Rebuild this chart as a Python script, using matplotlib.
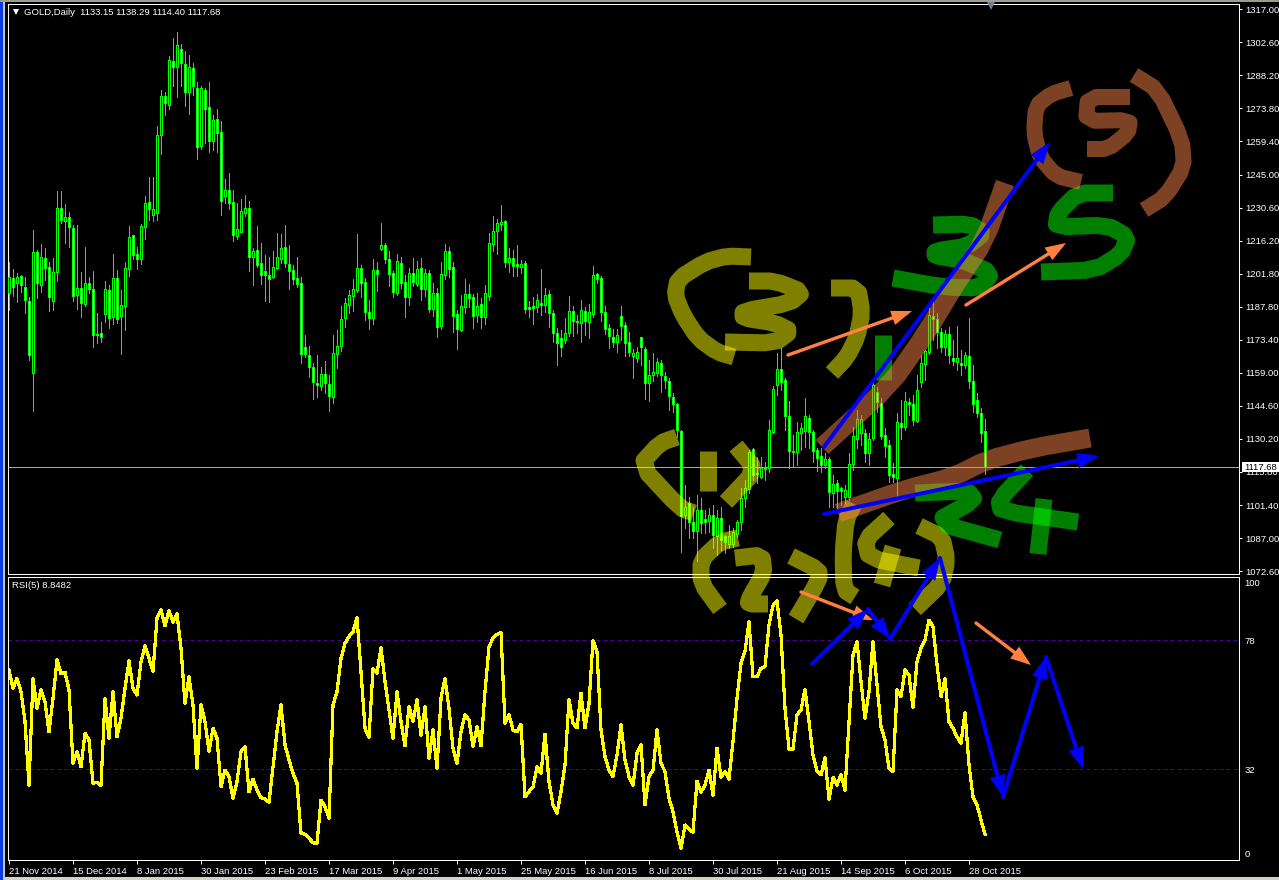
#!/usr/bin/env python
"""GOLD daily candles with RSI(5) below and hand-drawn wave counts on top (MT4 screenshot look)."""
import matplotlib
matplotlib.use("Agg")
import matplotlib.pyplot as plt
import numpy as np
from matplotlib.patches import Rectangle

W, H = 1279, 880
plt.rcParams["font.family"] = ["Liberation Sans", "DejaVu Sans"]

opens = [
    1193.5, 1199.8, 1197.9, 1200.8, 1196.1, 1190.0, 1158.7, 1211.1, 1196.8, 1208.5,
    1204.9, 1190.0, 1202.7, 1230.3, 1224.9, 1226.6, 1221.6, 1192.5, 1195.4, 1188.6,
    1197.6, 1195.0, 1175.4, 1175.8, 1184.4, 1194.6, 1182.8, 1199.8, 1183.5, 1187.9,
    1203.7, 1218.5, 1210.2, 1208.1, 1222.3, 1233.0, 1227.5, 1228.1, 1262.2, 1279.4,
    1275.4, 1294.3, 1292.0, 1299.5, 1293.0, 1280.8, 1291.3, 1282.6, 1257.6, 1281.8,
    1274.3, 1259.8, 1269.1, 1263.7, 1235.8, 1238.1, 1232.9, 1218.4, 1220.1, 1228.1,
    1230.3, 1208.9, 1212.0, 1206.3, 1202.8, 1201.4, 1200.5, 1204.1, 1208.3, 1213.3,
    1205.9, 1203.3, 1199.8, 1197.6, 1169.7, 1166.2, 1161.3, 1154.0, 1152.9, 1158.1,
    1153.6, 1148.2, 1166.7, 1170.4, 1182.6, 1188.2, 1192.2, 1194.7, 1204.1, 1198.0,
    1185.0, 1182.6, 1203.3, 1212.6, 1214.2, 1208.1, 1201.9, 1193.5, 1206.3, 1198.0,
    1191.8, 1201.9, 1197.3, 1204.1, 1195.0, 1201.9, 1186.3, 1193.3, 1179.2, 1201.4,
    1211.5, 1204.6, 1184.1, 1177.3, 1187.4, 1192.8, 1191.5, 1183.9, 1188.7, 1183.1,
    1192.2, 1214.9, 1220.5, 1223.6, 1224.9, 1207.0, 1208.8, 1205.9, 1204.9, 1206.3,
    1187.3, 1187.6, 1187.1, 1188.9, 1188.3, 1192.8, 1184.5, 1176.1, 1173.6, 1173.0,
    1175.8, 1185.4, 1181.2, 1180.2, 1185.4, 1180.9, 1184.1, 1201.5, 1199.8, 1185.0,
    1178.0, 1174.1, 1172.0, 1183.5, 1179.3, 1171.9, 1165.8, 1165.2, 1174.1, 1168.8,
    1154.3, 1157.8, 1158.7, 1162.7, 1157.1, 1154.9, 1147.9, 1145.0, 1133.4, 1096.5,
    1101.7, 1093.8, 1089.8, 1098.8, 1094.9, 1094.2, 1096.5, 1087.5, 1095.2, 1087.5,
    1083.9, 1083.9, 1088.4, 1093.8, 1103.9, 1108.1, 1125.3, 1114.8, 1113.4, 1116.7,
    1117.3, 1133.0, 1153.3, 1160.1, 1155.3, 1139.8, 1124.5, 1124.2, 1132.5, 1133.4,
    1138.8, 1133.0, 1125.0, 1122.5, 1118.3, 1120.9, 1106.1, 1110.4, 1108.3, 1104.4,
    1104.4, 1118.7, 1129.6, 1132.5, 1132.5, 1123.8, 1130.0, 1150.4, 1145.3, 1131.5,
    1127.2, 1114.4, 1112.6, 1136.9, 1134.9, 1146.0, 1144.9, 1137.8, 1154.5, 1162.3,
    1167.8, 1183.4, 1181.9, 1176.5, 1170.0, 1175.4, 1164.9, 1163.5, 1162.7, 1162.0,
    1165.9, 1155.2, 1146.6, 1141.0, 1133.15,
]
closes = [
    1200.5, 1196.1, 1200.2, 1197.0, 1190.3, 1166.5, 1211.1, 1197.6, 1208.9, 1204.1,
    1191.5, 1202.7, 1230.3, 1225.2, 1226.6, 1222.0, 1192.2, 1195.7, 1188.9, 1197.6,
    1195.0, 1175.2, 1175.2, 1174.1, 1195.3, 1182.3, 1199.8, 1181.9, 1188.0, 1204.1,
    1217.6, 1210.1, 1208.1, 1222.6, 1232.5, 1229.8, 1229.8, 1262.2, 1279.4, 1276.0,
    1294.8, 1292.0, 1301.4, 1293.5, 1280.8, 1291.7, 1283.7, 1256.9, 1282.9, 1273.4,
    1259.5, 1268.8, 1263.3, 1233.3, 1238.1, 1232.7, 1218.5, 1221.1, 1229.0, 1230.3,
    1208.9, 1211.5, 1205.7, 1201.1, 1201.1, 1199.6, 1204.6, 1208.9, 1212.9, 1206.3,
    1202.8, 1199.6, 1197.4, 1166.7, 1166.7, 1161.3, 1154.8, 1153.1, 1157.9, 1154.0,
    1148.6, 1167.1, 1170.4, 1181.9, 1188.9, 1192.4, 1195.0, 1204.1, 1197.9, 1185.3,
    1182.6, 1203.3, 1201.8, 1214.2, 1208.4, 1201.8, 1194.0, 1207.2, 1197.9, 1191.8,
    1201.9, 1198.0, 1203.7, 1195.3, 1201.9, 1186.3, 1193.3, 1178.7, 1201.7, 1211.5,
    1203.7, 1183.5, 1177.8, 1187.6, 1192.8, 1191.3, 1183.5, 1187.6, 1183.1, 1193.3,
    1215.0, 1220.5, 1223.7, 1224.5, 1207.0, 1208.8, 1205.3, 1205.3, 1206.2, 1186.6,
    1186.6, 1187.0, 1190.2, 1188.3, 1192.4, 1184.5, 1176.1, 1171.5, 1170.0, 1176.1,
    1185.4, 1181.3, 1180.7, 1185.8, 1181.3, 1185.0, 1201.1, 1199.3, 1185.3, 1177.8,
    1174.8, 1172.0, 1174.9, 1179.2, 1171.5, 1167.8, 1167.4, 1167.8, 1169.7, 1154.3,
    1157.5, 1158.8, 1163.2, 1157.5, 1155.6, 1148.6, 1144.9, 1133.7, 1096.2, 1100.3,
    1093.6, 1089.8, 1098.8, 1093.3, 1093.7, 1096.5, 1087.9, 1095.2, 1085.8, 1085.1,
    1087.5, 1089.1, 1093.5, 1103.9, 1108.3, 1124.2, 1114.1, 1114.4, 1117.0, 1117.3,
    1133.7, 1151.4, 1160.1, 1154.5, 1139.9, 1124.5, 1124.2, 1133.0, 1134.4, 1139.8,
    1133.0, 1124.7, 1121.3, 1118.4, 1120.9, 1106.8, 1110.2, 1107.3, 1107.1, 1107.6,
    1118.7, 1131.1, 1138.6, 1138.4, 1123.8, 1129.6, 1153.3, 1146.0, 1131.2, 1126.9,
    1114.1, 1113.0, 1137.3, 1135.1, 1146.5, 1144.9, 1138.1, 1151.1, 1163.0, 1168.0,
    1183.8, 1182.1, 1176.5, 1170.0, 1175.5, 1166.4, 1163.6, 1164.9, 1162.0, 1166.2,
    1155.2, 1145.0, 1141.2, 1132.5, 1117.68,
]
highs = [
    1207.0, 1203.7, 1202.0, 1201.2, 1200.5, 1191.5, 1220.8, 1212.1, 1214.6, 1212.9,
    1207.0, 1208.5, 1237.8, 1237.8, 1232.2, 1228.8, 1223.0, 1223.0, 1202.5, 1213.4,
    1200.5, 1203.0, 1184.5, 1180.6, 1198.6, 1196.9, 1210.2, 1203.4, 1194.7, 1207.0,
    1222.6, 1218.7, 1213.6, 1223.4, 1235.6, 1244.1, 1244.1, 1266.1, 1281.8, 1281.1,
    1296.7, 1304.6, 1307.0, 1301.9, 1299.0, 1297.1, 1293.5, 1285.2, 1283.6, 1282.6,
    1285.2, 1270.9, 1273.4, 1268.3, 1242.9, 1245.5, 1238.3, 1232.5, 1234.2, 1235.9,
    1233.5, 1213.1, 1222.6, 1215.0, 1209.9, 1209.2, 1211.8, 1219.4, 1219.1, 1223.0,
    1214.3, 1205.6, 1208.9, 1200.5, 1175.1, 1170.4, 1162.7, 1166.4, 1161.0, 1163.7,
    1157.7, 1175.1, 1177.3, 1187.7, 1191.1, 1194.7, 1199.5, 1219.1, 1205.6, 1199.8,
    1190.3, 1208.2, 1207.0, 1224.0, 1215.0, 1211.7, 1203.0, 1210.2, 1208.9, 1201.2,
    1204.1, 1208.5, 1207.3, 1208.5, 1203.7, 1203.4, 1197.6, 1195.4, 1206.7, 1214.6,
    1213.6, 1206.7, 1186.0, 1192.4, 1199.5, 1197.2, 1192.9, 1193.2, 1191.1, 1196.7,
    1219.4, 1226.9, 1225.6, 1231.7, 1225.2, 1212.8, 1212.1, 1214.3, 1207.8, 1207.5,
    1190.0, 1191.5, 1192.8, 1203.7, 1195.4, 1194.7, 1186.0, 1178.0, 1177.3, 1182.4,
    1192.1, 1187.7, 1183.8, 1190.3, 1187.4, 1188.6, 1205.1, 1202.0, 1200.8, 1187.7,
    1179.7, 1177.7, 1177.5, 1187.7, 1180.9, 1176.2, 1168.8, 1169.7, 1174.1, 1169.7,
    1164.2, 1167.1, 1164.9, 1164.2, 1159.1, 1156.2, 1149.7, 1145.6, 1133.7, 1109.7,
    1104.6, 1100.3, 1105.4, 1103.9, 1098.8, 1099.6, 1101.0, 1098.8, 1100.3, 1087.9,
    1092.3, 1090.9, 1094.5, 1108.3, 1111.9, 1125.0, 1125.7, 1122.1, 1122.1, 1119.9,
    1138.0, 1152.9, 1167.1, 1169.6, 1156.2, 1146.3, 1131.5, 1137.3, 1136.6, 1147.5,
    1140.2, 1133.7, 1125.7, 1125.7, 1123.5, 1122.1, 1114.1, 1111.9, 1109.0, 1109.7,
    1123.5, 1135.1, 1142.4, 1140.2, 1134.0, 1132.2, 1154.8, 1152.6, 1147.5, 1134.4,
    1129.3, 1119.2, 1141.0, 1146.8, 1150.4, 1147.5, 1148.9, 1157.6, 1166.4, 1168.6,
    1187.1, 1189.6, 1184.5, 1178.0, 1177.3, 1178.7, 1172.9, 1179.2, 1168.6, 1167.8,
    1182.4, 1162.0, 1149.7, 1143.1, 1138.29,
]
lows = [
    1186.0, 1192.1, 1189.6, 1194.0, 1184.8, 1164.2, 1142.1, 1191.4, 1194.0, 1199.1,
    1185.7, 1186.0, 1198.6, 1224.0, 1215.0, 1213.6, 1190.0, 1186.3, 1183.1, 1187.7,
    1193.2, 1170.0, 1171.7, 1172.2, 1180.9, 1178.3, 1179.7, 1180.1, 1166.8, 1177.3,
    1200.8, 1208.1, 1204.0, 1206.0, 1217.1, 1225.2, 1224.6, 1225.2, 1254.0, 1270.9,
    1273.7, 1283.6, 1278.9, 1283.6, 1274.9, 1271.4, 1279.7, 1251.6, 1256.1, 1258.6,
    1255.0, 1255.7, 1255.0, 1227.4, 1232.7, 1230.0, 1216.2, 1217.1, 1220.0, 1226.9,
    1203.1, 1196.9, 1204.9, 1197.3, 1190.0, 1189.6, 1199.8, 1203.7, 1206.3, 1204.9,
    1195.0, 1197.3, 1195.8, 1163.0, 1165.4, 1156.9, 1147.1, 1147.9, 1151.1, 1150.0,
    1142.1, 1145.3, 1160.5, 1168.1, 1178.7, 1184.8, 1185.7, 1194.0, 1191.8, 1181.6,
    1177.7, 1179.9, 1194.3, 1212.1, 1206.6, 1196.4, 1191.8, 1192.5, 1195.7, 1183.1,
    1188.2, 1196.6, 1196.4, 1190.3, 1192.1, 1185.3, 1183.4, 1174.4, 1177.7, 1199.3,
    1200.5, 1176.5, 1169.1, 1176.8, 1184.8, 1187.4, 1178.3, 1180.9, 1178.3, 1179.9,
    1190.3, 1211.7, 1210.4, 1220.8, 1204.6, 1202.7, 1201.0, 1200.8, 1202.2, 1184.5,
    1183.1, 1179.9, 1185.1, 1183.8, 1185.1, 1178.4, 1172.0, 1162.0, 1166.1, 1171.7,
    1174.7, 1174.8, 1176.1, 1172.0, 1175.1, 1173.8, 1183.1, 1197.6, 1181.3, 1175.5,
    1169.4, 1170.0, 1167.7, 1172.9, 1166.1, 1166.1, 1156.3, 1163.5, 1162.0, 1147.2,
    1146.5, 1155.2, 1157.2, 1150.4, 1151.8, 1142.4, 1141.7, 1130.5, 1080.7, 1090.8,
    1086.5, 1086.5, 1076.8, 1088.7, 1088.7, 1089.4, 1082.1, 1079.2, 1081.4, 1080.3,
    1082.1, 1082.9, 1087.2, 1090.1, 1100.3, 1106.1, 1111.9, 1110.5, 1112.6, 1111.9,
    1115.6, 1132.2, 1148.9, 1151.1, 1133.7, 1117.0, 1117.7, 1118.4, 1125.0, 1126.4,
    1125.7, 1119.9, 1116.0, 1115.6, 1117.0, 1100.3, 1100.3, 1099.1, 1101.0, 1102.0,
    1103.2, 1116.3, 1125.7, 1127.1, 1119.9, 1118.4, 1129.3, 1141.7, 1129.6, 1122.1,
    1111.2, 1111.2, 1104.6, 1129.8, 1133.7, 1140.2, 1135.9, 1137.3, 1152.6, 1155.5,
    1166.8, 1172.9, 1169.3, 1167.8, 1166.4, 1162.7, 1162.0, 1159.8, 1157.7, 1160.6,
    1151.9, 1141.7, 1139.5, 1128.6, 1114.40,
]
rsi = [
    67.4, 60.9, 64.4, 59.7, 49.0, 26.4, 64.4, 53.7, 60.3, 56.1,
    45.4, 57.3, 71.0, 66.0, 66.6, 60.3, 34.1, 38.3, 32.9, 44.8,
    42.4, 27.0, 27.4, 26.2, 57.1, 43.0, 59.7, 43.6, 50.2, 60.9,
    70.6, 60.9, 58.5, 70.4, 76.1, 71.6, 67.0, 85.8, 88.9, 83.2,
    88.6, 84.4, 87.4, 75.1, 55.5, 65.0, 54.9, 32.3, 54.9, 49.0,
    38.3, 46.6, 43.0, 25.8, 31.7, 29.4, 21.6, 27.6, 38.3, 40.1,
    24.0, 28.5, 24.6, 21.9, 21.4, 20.2, 32.9, 45.4, 54.9, 40.7,
    35.3, 30.6, 27.0, 9.2, 8.8, 7.4, 5.8, 5.6, 21.0, 18.7,
    14.5, 54.9, 59.7, 71.6, 76.9, 79.3, 81.1, 86.1, 66.8, 46.6,
    43.4, 67.8, 66.2, 75.4, 63.3, 53.2, 43.0, 59.7, 49.0, 40.4,
    54.3, 49.0, 56.7, 44.2, 54.3, 35.9, 46.0, 32.3, 57.3, 64.4,
    53.7, 39.5, 34.1, 45.4, 51.4, 49.6, 40.1, 47.2, 40.4, 59.7,
    75.7, 78.7, 80.1, 80.7, 48.4, 51.4, 46.0, 45.4, 48.0, 22.2,
    24.0, 25.8, 32.9, 30.6, 44.5, 27.6, 19.3, 16.3, 24.0, 33.5,
    56.9, 48.4, 46.8, 59.1, 46.8, 55.5, 77.9, 74.0, 46.0, 36.5,
    31.7, 29.4, 37.1, 47.8, 35.3, 29.4, 26.2, 37.7, 40.7, 19.3,
    29.4, 31.7, 46.0, 34.1, 31.2, 21.6, 16.9, 9.7, 3.8, 12.1,
    10.7, 9.5, 27.8, 23.8, 26.4, 31.7, 22.8, 39.5, 29.1, 31.2,
    28.5, 41.9, 57.3, 69.8, 74.0, 84.6, 65.0, 65.0, 68.0, 68.6,
    83.5, 90.4, 92.0, 79.9, 53.7, 39.2, 39.2, 51.4, 53.2, 60.5,
    49.0, 37.1, 31.2, 30.0, 36.1, 21.4, 29.1, 26.4, 30.0, 24.6,
    49.0, 72.8, 77.5, 63.2, 50.2, 59.7, 77.5, 62.1, 47.2, 42.4,
    32.3, 31.2, 60.3, 57.9, 67.4, 65.6, 54.0, 70.4, 75.1, 78.1,
    85.2, 82.9, 69.2, 57.9, 64.2, 49.0, 46.6, 43.6, 41.3, 52.3,
    33.5, 22.2, 19.3, 13.9, 8.85,
]

date_labels = ["21 Nov 2014", "15 Dec 2014", "8 Jan 2015", "30 Jan 2015", "23 Feb 2015", "17 Mar 2015",
               "9 Apr 2015", "1 May 2015", "25 May 2015", "16 Jun 2015", "8 Jul 2015", "30 Jul 2015",
               "21 Aug 2015", "14 Sep 2015", "6 Oct 2015", "28 Oct 2015"]
date_bars = [0, 16, 32, 48, 64, 80, 96, 112, 128, 144, 160, 176, 192, 208, 224, 240]
price_ticks = [1317.0, 1302.6, 1288.2, 1273.8, 1259.4, 1245.0, 1230.6, 1216.2, 1201.8, 1187.4,
               1173.0, 1158.6, 1144.2, 1129.8, 1115.4, 1101.0, 1086.6, 1072.2]
price_labels = ["1317.00", "1302.60", "1288.20", "1273.80", "1259.40", "1245.00", "1230.60", "1216.20", "1201.80",
                "1187.80", "1173.40", "1159.00", "1144.60", "1130.20", "1115.80", "1101.40", "1087.00", "1072.60"]
rsi_levels = [78, 32]
last_price = 1117.68

# hand-drawn strokes, in screen pixels of the 1279x880 picture
olive_strokes = [
    [(751, 257), (727, 256), (705, 262), (678, 279), (675, 295), (683, 315), (698, 338), (717, 352), (734, 357)],
    [(749, 281), (775, 281), (803, 292), (790, 303), (743, 311), (743, 318), (775, 323), (791, 331), (775, 343), (725, 342)],
    [(831, 288), (858, 288), (862, 313), (857, 337), (847, 357), (832, 373)],
    [(677, 437), (660, 443), (640, 465), (680, 508), (694, 513)],
    [(708, 451), (708, 491)],
    [(736, 446), (756, 470), (726, 502)],
    [(738, 538), (720, 542), (701, 560), (701, 583), (720, 609)],
    [(735, 558), (762, 555), (764, 573), (750, 597), (748, 604), (768, 604)],
    [(791, 556), (819, 570), (819, 580), (796, 619)],
    [(854, 504), (846, 520), (843, 553), (844, 590), (855, 597)],
    [(889, 518), (865, 540), (869, 558), (919, 568)],
    [(893, 547), (882, 585)],
    [(919, 526), (942, 537), (947, 560), (942, 583), (915, 609)],
]
green_strokes = [
    [(883, 335), (883, 380)],
    [(933, 225), (970, 224), (984, 233), (968, 246), (935, 251), (935, 256), (962, 260), (992, 273), (980, 288), (943, 287), (893, 278)],
    [(1113, 193), (1078, 193), (1058, 213), (1056, 227), (1107, 225), (1128, 237), (1121, 254), (1095, 270), (1041, 272)],
    [(915, 493), (968, 491), (975, 500), (935, 522), (1000, 540)],
    [(1027, 470), (999, 500), (1001, 511), (1078, 522)],
    [(1044, 499), (1038, 554)],
]
brown_strokes = [
    [(1071, 88), (1051, 94), (1036, 106), (1034, 133), (1040, 157), (1056, 176), (1081, 182)],
    [(1130, 97), (1088, 97), (1086, 121), (1130, 120), (1128, 133), (1108, 149), (1087, 149)],
    [(1134, 75), (1158, 90), (1182, 140), (1184, 167), (1165, 197), (1144, 210)],
]
brown_wide_strokes = [
    [(822, 447), (890, 385), (925, 335), (955, 285), (985, 240), (1005, 183)],
    [(838, 513), (903, 490), (953, 477), (987, 460), (1033, 448), (1090, 438)],
]
blue_arrows = [
    ((824, 447), (1050, 142)), ((824, 514), (1099, 456)),
    ((812, 664), (868, 609)), ((868, 609), (890, 639)), ((890, 639), (940, 558)),
    ((940, 558), (1003, 797)), ((1003, 797), (1046, 657)), ((1046, 657), (1083, 769)),
]
orange_arrows = [
    ((788, 355), (912, 311)), ((966, 305), (1066, 243)),
    ((801, 592), (873, 620)), ((976, 623), (1031, 665)),
]

PX = 72 / 100  # one screen pixel in points at dpi=100


def panel(fig, left, top, right, bottom):
    ax = fig.add_axes([left / W, 1 - bottom / H, (right - left) / W, (bottom - top) / H], facecolor="black")
    for s in ax.spines.values():
        s.set_color("white")
        s.set_linewidth(PX)
    ax.set_xlim(-0.25, 307.5)
    ax.yaxis.tick_right()
    ax.tick_params(axis="y", colors="white", labelsize=6.8, length=2.5, width=PX, pad=2)
    return ax


def draw_candles(ax):
    x = np.arange(len(opens))
    o, c = np.array(opens), np.array(closes)
    ax.vlines(x, lows, highs, color="#00ff00", lw=PX, antialiased=False, zorder=2)
    faces = ["white" if cl < op else "black" for op, cl in zip(o, c)]
    ax.bar(x, np.abs(o - c), bottom=np.minimum(o, c), width=0.5, color=faces, edgecolor="#00ff00",
           linewidth=PX, antialiased=False, zorder=3)


def rounded(pts, n=1):
    """Chaikin corner cutting so the polylines read as brush strokes; end points stay put."""
    p = np.array(pts, float)
    if len(p) < 3:
        return p
    for _ in range(n):
        q = 0.8 * p[:-1] + 0.2 * p[1:]
        r = 0.2 * p[:-1] + 0.8 * p[1:]
        p = np.vstack([p[0], np.column_stack([q, r]).reshape(-1, 2), p[-1]])
    return p


def main():
    fig = plt.figure(figsize=(W / 100, H / 100), dpi=100, facecolor="black")

    ax = panel(fig, 8, 4, 1239, 574)
    ax.set_ylim(1070.94, 1319.31)
    draw_candles(ax)
    ax.axhline(last_price, color="#a8a8a8", lw=PX, zorder=1)
    ax.set_yticks(price_ticks, price_labels)
    ax.set_xticks([])

    rs = panel(fig, 8, 577, 1239, 860)
    rs.set_ylim(-0.35, 100.57)
    for lev in rsi_levels:
        rs.axhline(lev, color="#4b0096", lw=PX, ls=(0, (4, 3)), zorder=1)
    rs.plot(np.arange(len(rsi)), rsi, color="#ffff00", lw=2.2 * PX, antialiased=False, zorder=2)
    rs.set_yticks([100, 78, 32, 0], ["100", "78", "32", "0"])
    rs.tick_params(axis="y", length=0, pad=4)
    rs.get_yticklabels()[0].set_va("top")
    rs.get_yticklabels()[3].set_va("bottom")
    rs.set_xticks(date_bars, date_labels)
    rs.tick_params(axis="x", colors="white", labelsize=6.8, length=3, width=PX, pad=2)
    for t in rs.get_xticklabels():
        t.set_ha("left")

    # everything hand-drawn or window chrome goes on a full-figure overlay in pixel coordinates
    top = fig.add_axes([0, 0, 1, 1], facecolor="none")
    top.set_xlim(0, W)
    top.set_ylim(H, 0)
    top.axis("off")

    for strokes, col, width in ((olive_strokes, "#ffff00", 17), (green_strokes, "#00ff00", 17),
                                (brown_strokes, "#fa8246", 16), (brown_wide_strokes, "#fa8246", 19)):
        for pts in strokes:
            p = rounded(pts)
            top.plot(p[:, 0], p[:, 1], color=col, alpha=0.5, lw=width * PX, solid_capstyle="butt",
                     solid_joinstyle="round")
    for arrows, col, lw in ((orange_arrows, "#ff8040", 3.4), (blue_arrows, "#0000ff", 4.0)):
        for start, end in arrows:
            top.annotate("", xy=end, xytext=start, arrowprops=dict(
                arrowstyle="-|>,head_length=1.0,head_width=0.36", mutation_scale=10, color=col,
                lw=lw * PX, shrinkA=0, shrinkB=0, joinstyle="miter"))

    top.plot([15.5], [12.5], marker="v", color="white", ms=5, mew=0)
    top.text(24, 12.5, "GOLD,Daily  1133.15 1138.29 1114.40 1117.68", color="white", fontsize=6.8, va="center")
    top.text(12, 585, "RSI(5) 8.8482", color="white", fontsize=6.8, va="center")
    top.plot([991], [6], marker="v", color="#708090", ms=6, mew=0)

    top.add_patch(Rectangle((1242, 462), 37, 10, color="white", lw=0, zorder=5))
    top.text(1244, 467.2, "1117.68", color="black", fontsize=6.8, va="center", zorder=6)

    # window edges
    top.add_patch(Rectangle((0, 0), 2.5, H, color="#0a3ce0", lw=0))
    top.add_patch(Rectangle((2.5, 0), 2.5, H, color="#b8c4d8", lw=0))
    top.add_patch(Rectangle((0, 0), W, 2.5, color="#9c9c90", lw=0))
    top.add_patch(Rectangle((5, 877), W - 5, 3, color="#d4d0c8", lw=0))

    fig.savefig("out.png", dpi=100, facecolor="black")


if __name__ == "__main__":
    main()
